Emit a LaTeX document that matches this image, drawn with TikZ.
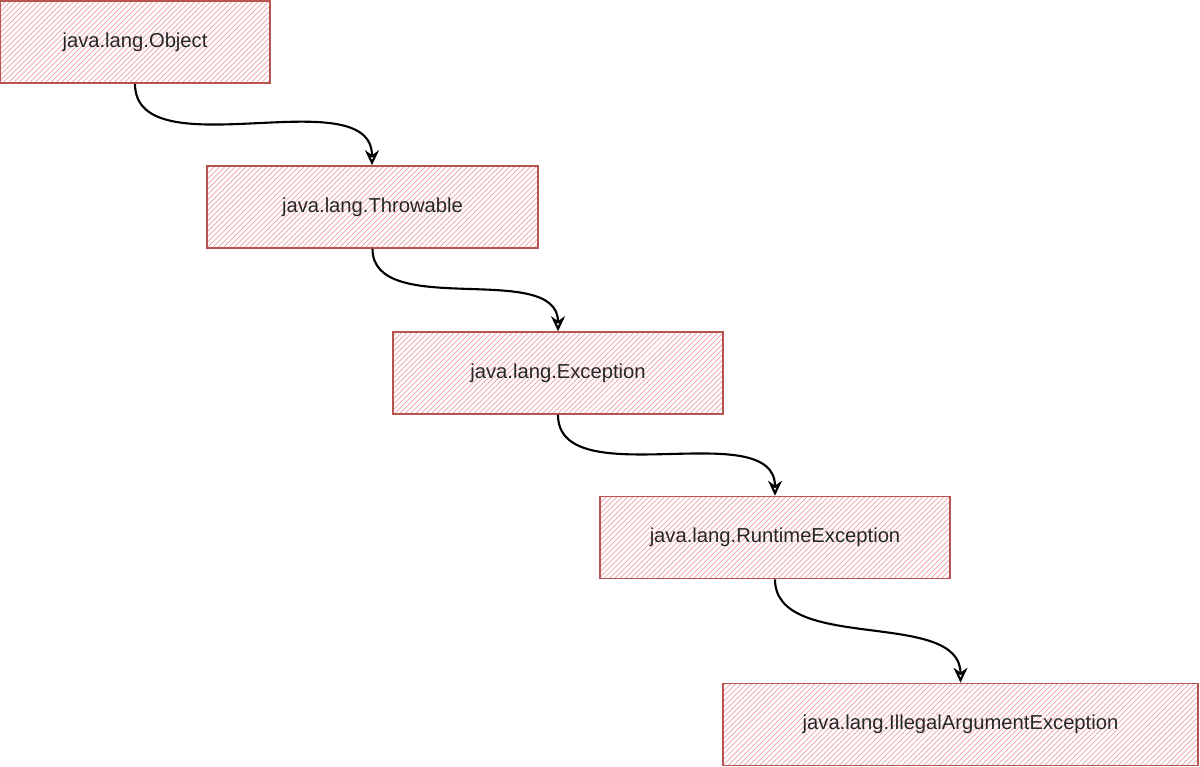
\documentclass[tikz,border=0pt]{standalone}
\usepackage{fontspec}
\setmainfont{Liberation Sans}
\usetikzlibrary{arrows.meta, patterns, positioning}
\definecolor{boxred}{RGB}{184,84,80}
\definecolor{hatch}{RGB}{240,160,168}
\tikzset{%
	cls/.style={draw=boxred, line width=0.9pt, rectangle, minimum height=1.64cm,%
		inner sep=0mm, pattern=north east lines, pattern color=hatch,%
		font=\fontsize{11.5}{13}\selectfont, text=black!85},
	ext/.style={-{Stealth[open, length=3mm, width=2.8mm]}, line width=1.2pt,%
		out=-90, in=90, looseness=0.9}
}
\begin{document}
\begin{tikzpicture}
	\useasboundingbox (0,0) rectangle (24,-15.32);
	\node[cls, minimum width=5.4cm]  (obj) at (2.7,-0.84)     {java.lang.Object};
	\node[cls, minimum width=6.62cm] (thr) at (7.45,-4.14)    {java.lang.Throwable};
	\node[cls, minimum width=6.6cm]  (exc) at (11.16,-7.46)   {java.lang.Exception};
	\node[cls, minimum width=7cm]    (rte) at (15.5,-10.75)   {java.lang.RuntimeException};
	\node[cls, minimum width=9.5cm]  (iae) at (19.21,-14.49)  {java.lang.IllegalArgumentException};

	\draw[ext] (obj.south) to (thr.north -| 7.44,0);
	\draw[ext] (thr.south) to (exc.north);
	\draw[ext] (exc.south) to (rte.north);
	\draw[ext] (rte.south) to (iae.north);
\end{tikzpicture}
\end{document}
